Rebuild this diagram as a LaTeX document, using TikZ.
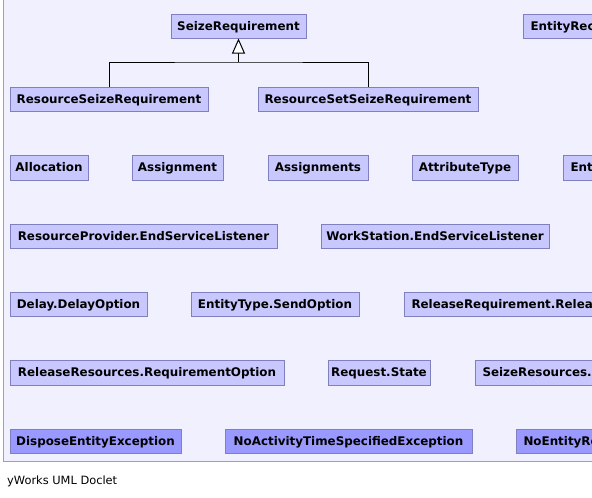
\documentclass[tikz,border=0pt]{standalone}
\usepackage{fontspec}
\setmainfont{DejaVu Sans}
\usetikzlibrary{arrows.meta}
\definecolor{panelbg}{RGB}{240,240,255}
\definecolor{panelline}{RGB}{160,160,170}
\definecolor{clsfill}{RGB}{200,200,255}
\definecolor{excfill}{RGB}{153,153,255}
\definecolor{clsline}{RGB}{128,128,192}
\tikzset{
  cls/.style={draw=clsline, fill=clsfill, line width=1pt, inner sep=0pt,
    text height=8.7pt, text depth=0pt,
    minimum height=24pt, font=\fontsize{11.9}{14}\selectfont\bfseries, text=black},
  exc/.style={cls, fill=excfill},
  cut/.style={anchor=west, inner xsep=7pt},
  inherit/.style={draw=black, line width=1pt},
}
\begin{document}
\begin{tikzpicture}[x=1pt,y=-1pt]
\useasboundingbox (0,0) rectangle (592,498);
\clip (0,0) rectangle (592,498);
\draw[fill=panelbg, draw=panelline, line width=1pt] (3,-5) rectangle (700,461);
% row 1
\node[cls, minimum width=135pt] (sr) at (238.5,26) {SeizeRequirement};
\node[cls, cut] (er) at (523,26) {EntityRec\hspace{120pt}};
% row 2
\node[cls, minimum width=198pt] (rsr) at (109,99) {ResourceSeizeRequirement};
\node[cls, minimum width=220pt] (rssr) at (368,99) {ResourceSetSeizeRequirement};
% row 3
\node[cls, minimum width=78pt, minimum height=25pt] (alloc) at (49,167.5) {Allocation};
\node[cls, minimum width=91pt, minimum height=25pt] (assign) at (177.5,167.5) {Assignment};
\node[cls, minimum width=100pt, minimum height=25pt] (assigns) at (318,167.5) {Assignments};
\node[cls, minimum width=106pt, minimum height=25pt] (attr) at (465,167.5) {AttributeType};
\node[cls, cut, minimum height=25pt] (ent) at (563,167.5) {Ent\hspace{80pt}};
% row 4
\node[cls, minimum width=267pt] (rpl) at (143.5,236) {ResourceProvider.EndServiceListener};
\node[cls, minimum width=228pt] (wsl) at (435,236) {WorkStation.EndServiceListener};
% row 5
\node[cls, minimum width=137pt] (ddo) at (78.5,304) {Delay.DelayOption};
\node[cls, minimum width=168pt] (ets) at (275,304) {EntityType.SendOption};
\node[cls, cut] (rrr) at (404,304) {ReleaseRequirement.Relea\hspace{80pt}};
% row 6
\node[cls, minimum width=274pt, minimum height=25pt] (rro) at (147,372.5) {ReleaseResources.RequirementOption};
\node[cls, minimum width=102pt, minimum height=25pt] (rst) at (379,372.5) {Request.State};
\node[cls, cut, minimum height=25pt] (srs) at (475,372.5) {SeizeResources.\hspace{80pt}};
% row 7
\node[exc, minimum width=171pt] (dee) at (95.5,441) {DisposeEntityException};
\node[exc, minimum width=247pt] (nat) at (348.5,441) {NoActivityTimeSpecifiedException};
\node[exc, cut] (ner) at (516,441) {NoEntityRe\hspace{80pt}};
% inheritance
\coordinate (j) at (238.5,62);
\draw[inherit] (rsr.north) |- (j) -| (rssr.north);
\draw[inherit, -{Triangle[fill=white, length=15pt, width=13pt, line width=1pt]}] (j) -- (sr.south);
% footer
\node[anchor=west, inner sep=0pt, font=\fontsize{11.4}{13}\selectfont] (foot) at (7,481) {yWorks UML Doclet};
\end{tikzpicture}
\end{document}
